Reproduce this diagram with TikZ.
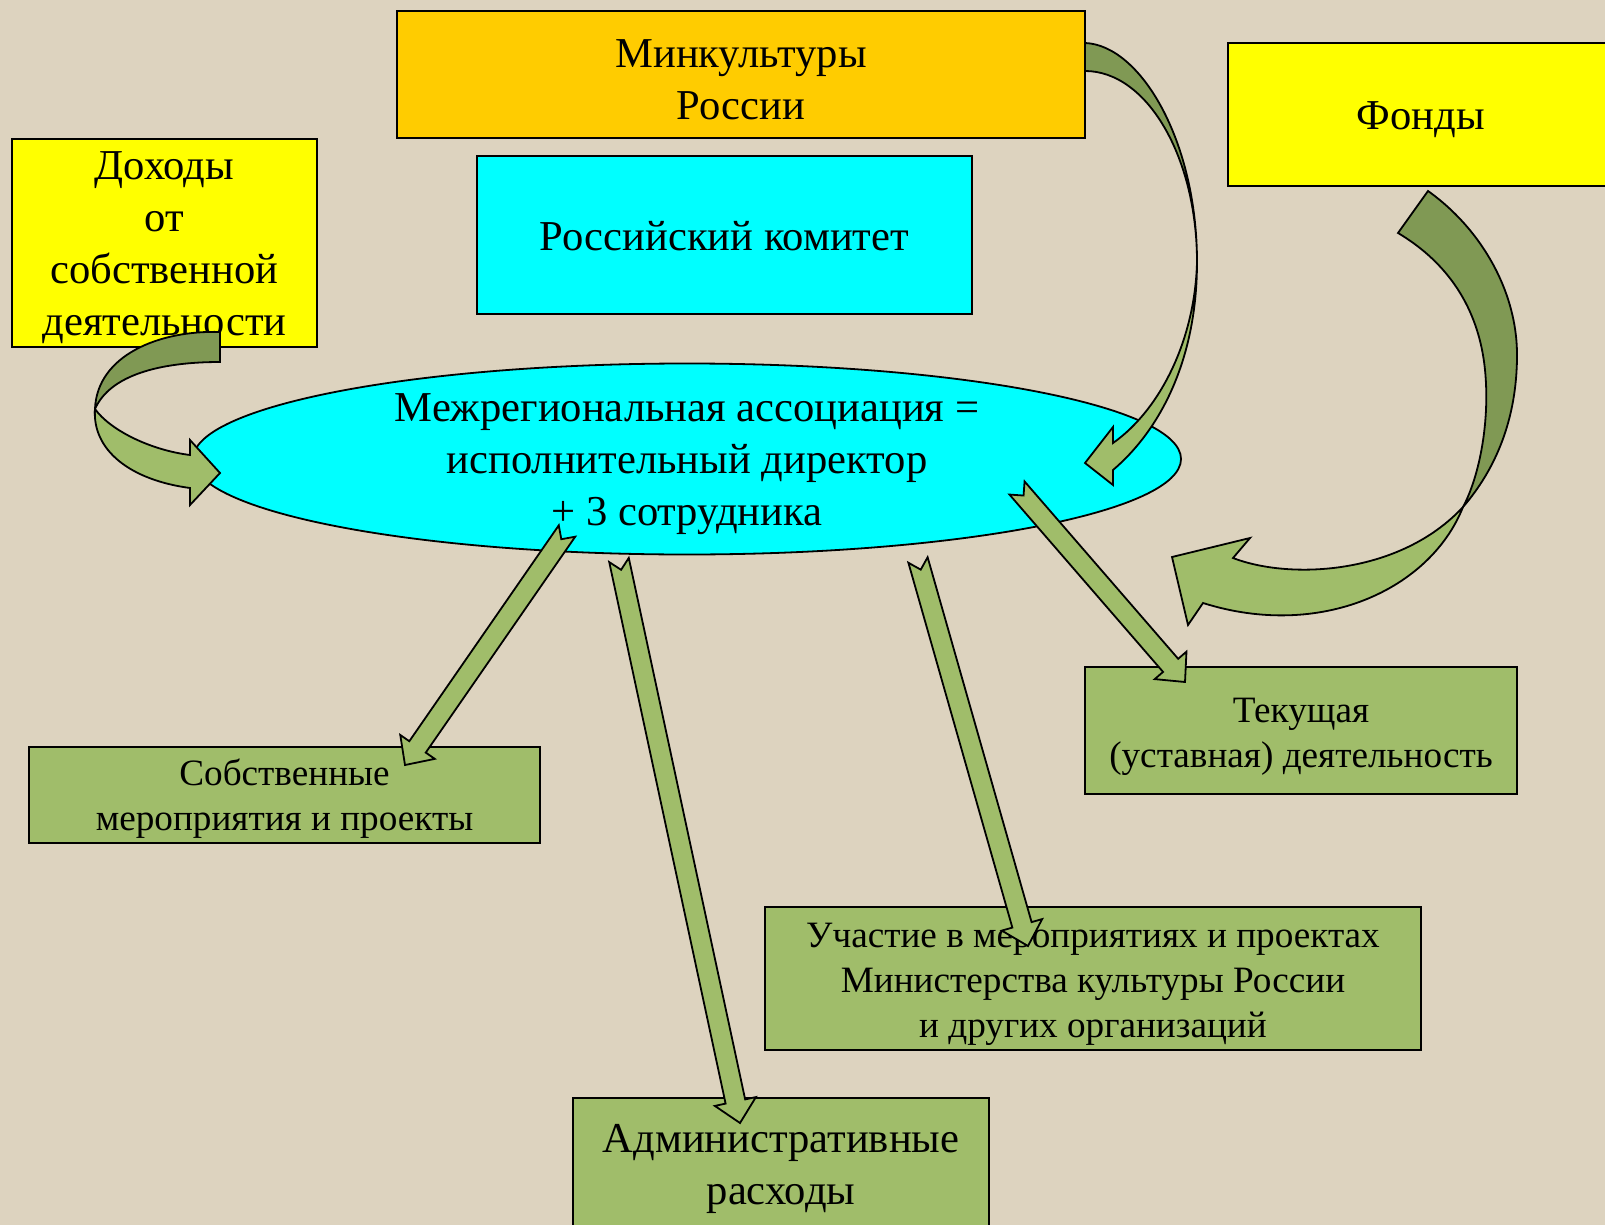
\documentclass[tikz,border=0pt]{standalone}
\usepackage{fontspec}
\setmainfont{Liberation Serif}
\usetikzlibrary{shapes.geometric,calc}
\definecolor{bgbeige}{RGB}{221,211,191}
\definecolor{boxgreen}{RGB}{160,189,106}
\definecolor{olivedark}{RGB}{128,153,84}
\definecolor{gold}{RGB}{255,204,0}
\definecolor{lemon}{RGB}{255,255,0}
\definecolor{aqua}{RGB}{0,255,255}
\newcommand{\bigtxt}{\fontsize{21.3}{26}\selectfont}
\newcommand{\smalltxt}{\fontsize{18.6}{22.5}\selectfont}
% flat arrow with notched tail : #1 tail, #2 tip
\newcommand{\notcharrow}[2]{%
  \coordinate (nt-h) at ($(#2)!11pt!(#1)$) ;
  \draw[flatarrow] ($(#1)!5pt!90:(#2)$) -- ($(#1)!5pt!(#2)$) -- ($(#1)!5pt!-90:(#2)$)
     -- ($(nt-h)!5pt!-90:(#2)$) -- ($(nt-h)!10.5pt!-90:(#2)$) -- (#2)
     -- ($(nt-h)!10.5pt!90:(#2)$) -- ($(nt-h)!5pt!90:(#2)$) -- cycle ;
}
\begin{document}
\begin{tikzpicture}[x=0.5pt,y=-0.5pt,
   box/.style={draw=black,line width=1.3pt,inner sep=0pt},
   boxtext/.style={inner sep=0pt,align=center},
   flatarrow/.style={draw=black,line width=0.9pt,fill=boxgreen,line join=miter},
   backarrow/.style={draw=black,line width=0.9pt,fill=olivedark}]
         \fill[bgbeige] (0,0) rectangle (1605,1225) ;
         \useasboundingbox (0,0) rectangle (1605,1225) ;
         % boxes
         \node[box,fill=gold,minimum width=344pt,minimum height=63.5pt] (minkult) at (741,74.5) {} ;
         \node[boxtext,font=\bigtxt] (minkult-t) at ($(minkult)+(0,5)$) {Минкультуры\\России} ;
         \node[box,fill=lemon,minimum width=193pt,minimum height=71.5pt] (fondy) at (1421,114.5) {} ;
         \node[boxtext,font=\bigtxt] (fondy-t) at ($(fondy)+(0,5)$) {Фонды} ;
         \node[box,fill=lemon,minimum width=152.5pt,minimum height=104pt] (dohody) at (164.5,243) {} ;
         \node[boxtext,font=\bigtxt] (dohody-t) at ($(dohody)+(0,5)$) {Доходы\\от\\собственной\\деятельности} ;
         \node[box,fill=aqua,minimum width=247.5pt,minimum height=79pt] (komitet) at (724.5,235) {} ;
         \node[boxtext,font=\bigtxt] (komitet-t) at ($(komitet)+(0,1)$) {Российский комитет} ;
         \node[draw=black,line width=0.9pt,fill=aqua,ellipse,minimum width=494pt,minimum height=95.5pt,inner sep=0pt] (assoc) at (687,459) {} ;
         \node[boxtext,font=\bigtxt] (assoc-t) at ($(assoc)+(0,5)$) {Межрегиональная ассоциация =\\исполнительный директор\\+ 3 сотрудника} ;
         \node[box,fill=boxgreen,minimum width=255.5pt,minimum height=48pt] (sobstv) at (284.5,795) {} ;
         \node[boxtext,font=\smalltxt] (sobstv-t) at ($(sobstv)+(0,4)$) {Собственные\\мероприятия и проекты} ;
         \node[box,fill=boxgreen,minimum width=216pt,minimum height=63.5pt] (tekush) at (1301,730.5) {} ;
         \node[boxtext,font=\smalltxt] (tekush-t) at ($(tekush)+(0,6)$) {Текущая\\(уставная) деятельность} ;
         \node[box,fill=boxgreen,minimum width=328pt,minimum height=71.5pt] (uchast) at (1093,978.5) {} ;
         \node[boxtext,font=\smalltxt] (uchast-t) at ($(uchast)+(0,6)$) {Участие в мероприятиях и проектах\\Министерства культуры России\\и других организаций} ;
         \node[box,fill=boxgreen,minimum width=208pt,minimum height=70pt] (admin) at (781,1168) {} ;
         \node[boxtext,font=\bigtxt] (admin-t) at ($(admin)+(0,1)$) {Административные\\расходы} ;
         % straight arrows out of the ellipse
         \coordinate (a1s) at (567,531) ; \coordinate (a1e) at (405,765) ;
         \coordinate (a2s) at (619,560) ; \coordinate (a2e) at (740,1123) ;
         \coordinate (a3s) at (918,560) ; \coordinate (a3e) at (1028,946) ;
         \coordinate (a4s) at (1017,488) ; \coordinate (a4e) at (1185,682) ;
         \notcharrow{a1s}{a1e}
         \notcharrow{a2s}{a2e}
         \notcharrow{a3s}{a3e}
         \notcharrow{a4s}{a4e}
         % curved arrow from the ministry
         \draw[backarrow] (1085,43) .. controls (1140,45) and (1197,140) .. (1197,262)
            .. controls (1197,157) and (1147,71) .. (1085,71) -- cycle ;
         \draw[flatarrow] (1197,262) .. controls (1197,360) and (1160,430) .. (1113,470)
            -- (1113,485) -- (1085,463) -- (1113,427) -- (1113,443)
            .. controls (1160,410) and (1195,340) .. (1197,262) -- cycle ;
         % curved arrow from the funds
         \draw[backarrow] (1428,191) .. controls (1480,228) and (1517,290) .. (1517,355)
            .. controls (1517,420) and (1495,470) .. (1463,507)
            .. controls (1480,475) and (1490,420) .. (1485,370)
            .. controls (1478,300) and (1440,258) .. (1398,233) -- cycle ;
         \draw[flatarrow] (1463,507) .. controls (1430,590) and (1320,640) .. (1203,603)
            -- (1188,625) -- (1172,557) -- (1250,538) -- (1233,558)
            .. controls (1290,580) and (1400,575) .. (1463,507) -- cycle ;
         % curved arrow from own income
         \draw[backarrow] (220,332) .. controls (160,330) and (97,355) .. (95,409)
            .. controls (110,375) and (160,362) .. (220,362) -- cycle ;
         \draw[flatarrow] (95,409) .. controls (92,450) and (130,480) .. (190,488)
            -- (190,505) -- (220,473) -- (190,440) -- (190,455)
            .. controls (150,450) and (110,430) .. (95,409) -- cycle ;
       \end{tikzpicture}
\end{document}
